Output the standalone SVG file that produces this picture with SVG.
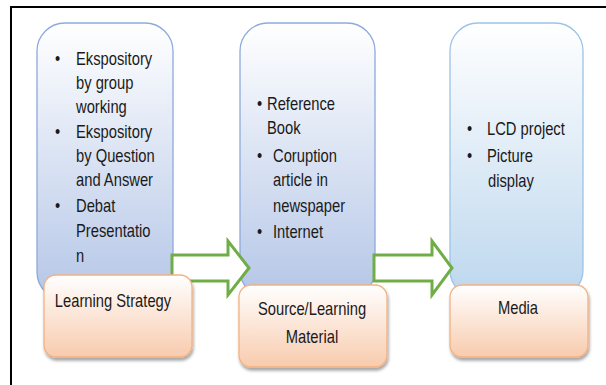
<svg xmlns="http://www.w3.org/2000/svg" width="606" height="385" viewBox="0 0 606 385">
<defs>
<linearGradient id="gBlue" x1="0" y1="0" x2="0" y2="1">
<stop offset="0" stop-color="#ffffff"/>
<stop offset="1" stop-color="#b4c6e7"/>
</linearGradient>
<linearGradient id="gBlue3" x1="0" y1="0" x2="0" y2="1">
<stop offset="0" stop-color="#ffffff"/>
<stop offset="1" stop-color="#bdd7ee"/>
</linearGradient>
<linearGradient id="gOrange" x1="0" y1="0" x2="0" y2="1">
<stop offset="0" stop-color="#ffffff"/>
<stop offset="1" stop-color="#f8cbad"/>
</linearGradient>
<filter id="shadow" x="-10%" y="-10%" width="125%" height="130%">
<feDropShadow dx="1" dy="3" stdDeviation="1.5" flood-color="#000" flood-opacity="0.35"/>
</filter>
</defs>
<style>
.blue{fill:url(#gBlue);stroke:#8eaadb;stroke-width:1.3}
.blue3{fill:url(#gBlue3);stroke:#9dc3e6;stroke-width:1.3}
.orange{fill:url(#gOrange);stroke:#f4b183;stroke-width:1.3;filter:url(#shadow)}
.arrow{fill:#ffffff;stroke:#70ad47;stroke-width:3}
text{font-family:"Liberation Sans",Arial,sans-serif;font-size:18px;fill:#1a1a1a}
.c{text-anchor:middle}
.frame{stroke:#000;stroke-width:2;fill:none}
</style>
<rect width="606" height="385" fill="#ffffff"/>
<path class="frame" d="M11,385 V7 H606"/>

<g id="node-strategy-list">
<rect class="blue" x="37" y="23" width="136" height="277" rx="28" ry="28"/>
<text transform="translate(55,65) scale(0.82,1)">•</text><text transform="translate(76,65) scale(0.82,1)">Ekspository</text>
<text transform="translate(76,89) scale(0.82,1)">by group</text>
<text transform="translate(76,113) scale(0.82,1)">working</text>
<text transform="translate(55,138) scale(0.82,1)">•</text><text transform="translate(76,138) scale(0.82,1)">Ekspository</text>
<text transform="translate(76,162) scale(0.82,1)">by Question</text>
<text transform="translate(76,186) scale(0.82,1)">and Answer</text>
<text transform="translate(55,212) scale(0.82,1)">•</text><text transform="translate(76,212) scale(0.82,1)">Debat</text>
<text transform="translate(76,237) scale(0.82,1)">Presentatio</text>
<text transform="translate(76,262) scale(0.82,1)">n</text>
</g>

<g id="node-source-list">
<rect class="blue" x="240" y="23" width="135" height="275" rx="28" ry="28"/>
<text transform="translate(257,110) scale(0.82,1)">•</text><text transform="translate(267,110) scale(0.82,1)">Reference</text>
<text transform="translate(267,134) scale(0.82,1)">Book</text>
<text transform="translate(257,162) scale(0.82,1)">•</text><text transform="translate(273,162) scale(0.82,1)">Coruption</text>
<text transform="translate(273,186) scale(0.82,1)">article in</text>
<text transform="translate(273,212) scale(0.82,1)">newspaper</text>
<text transform="translate(257,238) scale(0.82,1)">•</text><text transform="translate(273,238) scale(0.82,1)">Internet</text>
</g>

<g id="node-media-list">
<rect class="blue3" x="450" y="23" width="133" height="275" rx="28" ry="28"/>
<text transform="translate(467,135) scale(0.82,1)">•</text><text transform="translate(487,135) scale(0.82,1)">LCD project</text>
<text transform="translate(467,162) scale(0.82,1)">•</text><text transform="translate(487,162) scale(0.82,1)">Picture</text>
<text transform="translate(488,187) scale(0.82,1)">display</text>
</g>

<g id="connectors">
<polygon class="arrow" points="172,255 228,255 228,241 249,268 228,295 228,281 172,281"/>
<polygon class="arrow" points="374,255 432,255 432,241 452,268 432,295 432,281 374,281"/>
</g>

<g id="node-strategy">
<rect class="orange" x="44" y="275" width="148" height="82" rx="12" ry="12"/>
<text transform="translate(113,307) scale(0.82,1)" class="c">Learning Strategy</text>
</g>

<g id="node-source">
<rect class="orange" x="239" y="285" width="148" height="82" rx="12" ry="12"/>
<text transform="translate(312,315) scale(0.82,1)" class="c">Source/Learning</text>
<text transform="translate(312,343) scale(0.82,1)" class="c">Material</text>
</g>

<g id="node-media">
<rect class="orange" x="450" y="285" width="138" height="72" rx="12" ry="12"/>
<text transform="translate(518,314) scale(0.82,1)" class="c">Media</text>
</g>
</svg>
